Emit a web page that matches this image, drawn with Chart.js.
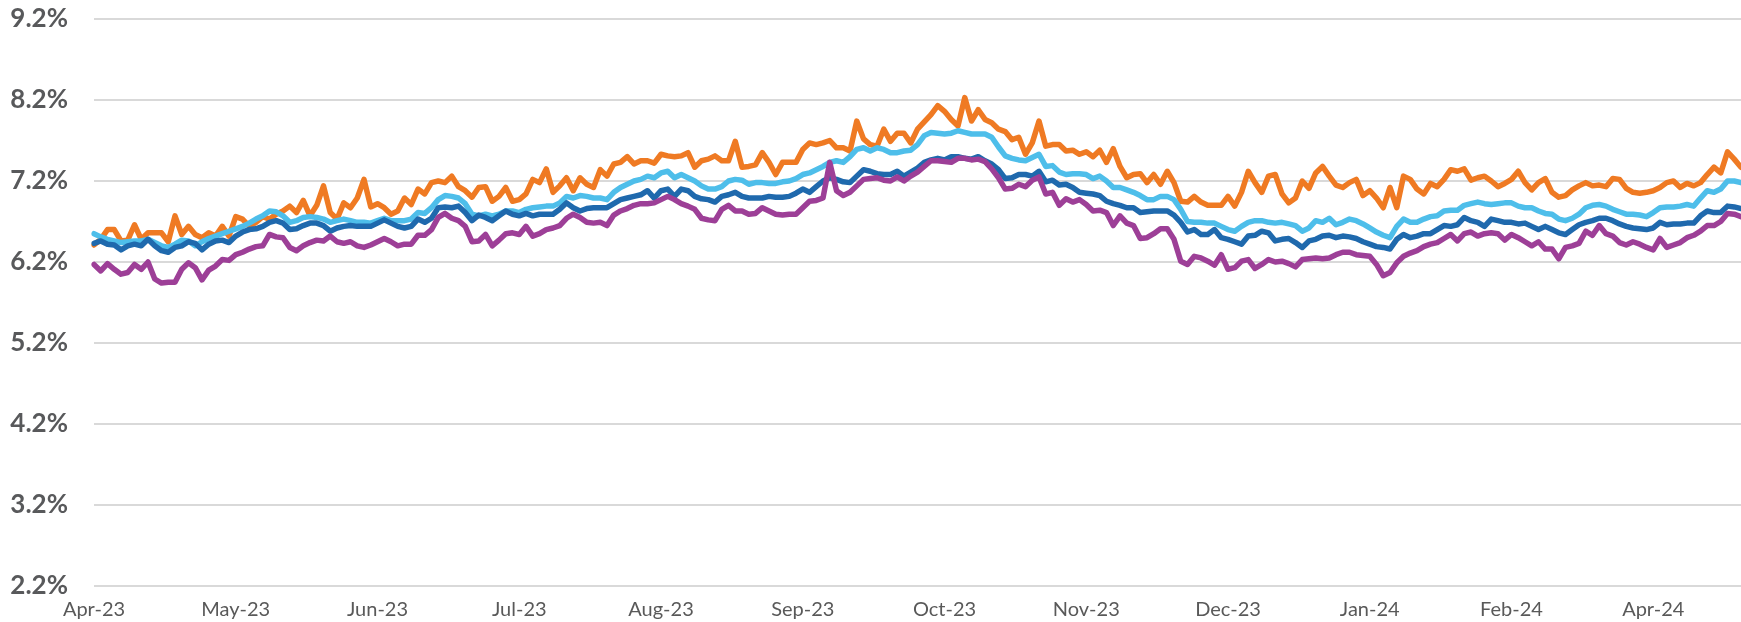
<!DOCTYPE html>
<html>
<head>
<meta charset="utf-8">
<script src="https://cdn.jsdelivr.net/npm/chart.js@4.4.1/dist/chart.umd.min.js"></script>
<style>
  html, body { margin: 0; padding: 0; background: #ffffff; }
  #wrap { width: 1741px; height: 622px; position: relative; }
</style>
</head>
<body>
<div id="wrap"><canvas id="c" width="1741" height="622"></canvas></div>
<script>
// ---- data ----
const tickLabels = ['Apr-23','May-23','Jun-23','Jul-23','Aug-23','Sep-23','Oct-23','Nov-23','Dec-23','Jan-24','Feb-24','Apr-24'];
const tickStep = 21;
const yTicks = [2.2, 3.2, 4.2, 5.2, 6.2, 7.2, 8.2, 9.2];

const orangeSeries = [
  6.41,6.48,6.60,6.60,6.46,6.47,6.66,6.48,6.56,6.56,6.56,6.45,6.77,6.54,6.64,6.54,6.50,6.56,6.52,6.64,
  6.52,6.76,6.73,6.64,6.69,6.76,6.73,6.79,6.83,6.89,6.81,6.96,6.77,6.90,7.14,6.81,6.73,6.93,6.87,6.99,
  7.22,6.88,6.92,6.87,6.79,6.83,6.99,6.91,7.10,
  7.04,7.18,7.20,7.18,7.26,7.13,7.08,7.00,7.12,7.13,6.95,7.01,7.12,6.95,6.97,7.04,7.22,7.18,7.35,7.06,
  7.14,7.24,7.08,7.24,7.16,7.12,7.34,7.26,7.41,7.43,7.50,7.41,7.45,7.45,7.42,7.53,7.51,7.50,7.51,7.55,
  7.37,7.45,7.47,7.51,7.45,7.45,7.69,7.37,7.38,
  7.40,7.55,7.43,7.28,7.43,7.43,7.43,7.59,7.67,7.65,7.67,7.70,7.61,7.61,7.57,7.94,7.72,7.65,7.63,7.84,
  7.69,7.79,7.79,7.67,7.84,7.93,8.02,8.13,8.06,7.96,7.88,8.23,7.94,8.08,7.96,7.92,7.84,7.81,7.71,7.74,
  7.53,7.67,7.94,7.63,7.65,7.65,7.57,7.58,7.53,
  7.56,7.50,7.58,7.43,7.60,7.38,7.24,7.28,7.29,7.18,7.28,7.16,7.32,7.18,6.95,6.94,7.01,6.94,6.90,6.90,
  6.90,7.01,6.89,7.06,7.32,7.18,7.06,7.26,7.28,7.04,6.93,6.99,7.20,7.11,7.30,7.38,7.26,7.15,7.12,7.18,
  7.22,7.02,7.08,6.99,6.87,7.12,6.87,7.26,7.22,
  7.10,7.04,7.17,7.13,7.22,7.34,7.32,7.35,7.21,7.24,7.26,7.20,7.13,7.17,7.22,7.32,7.18,7.09,7.18,7.23,
  7.06,7.00,7.02,7.09,7.14,7.18,7.14,7.15,7.13,7.23,7.22,7.11,7.06,7.05,7.06,7.08,7.12,7.18,7.20,7.12,
  7.17,7.14,7.18,7.28,7.37,7.30,7.56,7.47,7.37
];

const skySeries = [
  6.55,6.51,6.48,6.46,6.44,6.45,6.46,6.46,6.48,6.44,6.40,6.38,6.42,6.47,6.46,6.40,6.45,6.49,6.52,6.55,
  6.58,6.61,6.64,6.68,6.73,6.77,6.83,6.82,6.77,6.69,6.71,6.75,6.76,6.75,6.73,6.69,6.71,6.73,6.71,6.69,
  6.69,6.68,6.71,6.74,6.71,6.71,6.71,6.73,6.81,
  6.80,6.87,6.97,7.02,7.01,6.99,6.92,6.79,6.77,6.79,6.77,6.79,6.83,6.83,6.81,6.85,6.87,6.88,6.89,6.89,
  6.93,7.01,6.99,7.02,7.01,6.99,6.99,6.97,7.06,7.12,7.16,7.20,7.22,7.26,7.24,7.30,7.32,7.24,7.28,7.24,
  7.20,7.14,7.10,7.10,7.13,7.20,7.22,7.21,7.16,
  7.18,7.18,7.17,7.17,7.19,7.20,7.23,7.28,7.30,7.34,7.38,7.43,7.45,7.43,7.50,7.59,7.61,7.57,7.61,7.59,
  7.55,7.55,7.57,7.58,7.65,7.76,7.80,7.79,7.78,7.79,7.82,7.80,7.78,7.78,7.78,7.74,7.62,7.51,7.48,7.46,
  7.45,7.49,7.53,7.38,7.39,7.31,7.28,7.29,7.29,
  7.28,7.23,7.26,7.20,7.12,7.12,7.09,7.06,7.02,6.97,6.97,7.01,7.01,6.97,6.85,6.70,6.69,6.69,6.68,6.68,
  6.64,6.60,6.58,6.64,6.69,6.71,6.71,6.69,6.68,6.69,6.67,6.65,6.58,6.62,6.71,6.69,6.74,6.66,6.69,6.73,
  6.71,6.67,6.62,6.57,6.53,6.50,6.64,6.73,6.69,
  6.69,6.73,6.76,6.77,6.83,6.84,6.84,6.90,6.92,6.94,6.92,6.91,6.92,6.93,6.93,6.89,6.87,6.87,6.83,6.80,
  6.79,6.73,6.71,6.74,6.79,6.87,6.90,6.91,6.89,6.85,6.82,6.79,6.79,6.78,6.76,6.81,6.87,6.88,6.88,6.89,
  6.91,6.89,6.99,7.08,7.06,7.10,7.20,7.20,7.18
];

const navySeries = [
  6.43,6.46,6.42,6.41,6.35,6.40,6.42,6.40,6.48,6.40,6.34,6.32,6.38,6.40,6.45,6.43,6.35,6.42,6.46,6.47,
  6.44,6.52,6.57,6.60,6.61,6.64,6.69,6.71,6.68,6.60,6.61,6.65,6.68,6.68,6.65,6.58,6.62,6.64,6.65,6.64,
  6.64,6.64,6.68,6.72,6.68,6.64,6.62,6.64,6.73,
  6.69,6.74,6.87,6.88,6.87,6.89,6.81,6.71,6.78,6.75,6.71,6.77,6.83,6.79,6.77,6.80,6.77,6.79,6.79,6.79,
  6.85,6.93,6.87,6.83,6.86,6.87,6.87,6.87,6.92,6.97,6.99,7.01,7.03,7.08,6.99,7.08,7.10,7.01,7.10,7.08,
  7.01,6.98,6.97,6.94,7.01,7.03,7.06,7.01,6.99,
  6.99,6.99,7.01,7.00,7.00,7.01,7.05,7.10,7.06,7.13,7.20,7.24,7.22,7.19,7.18,7.26,7.34,7.32,7.29,7.28,
  7.28,7.32,7.26,7.31,7.36,7.43,7.46,7.48,7.46,7.50,7.50,7.48,7.47,7.50,7.45,7.41,7.34,7.23,7.24,7.28,
  7.28,7.26,7.32,7.19,7.21,7.15,7.16,7.12,7.06,
  7.05,7.04,7.02,6.95,6.92,6.90,6.87,6.87,6.81,6.82,6.83,6.83,6.83,6.78,6.69,6.57,6.60,6.54,6.54,6.60,
  6.50,6.48,6.45,6.42,6.52,6.53,6.58,6.56,6.46,6.48,6.49,6.44,6.38,6.46,6.48,6.52,6.53,6.50,6.52,6.51,
  6.49,6.45,6.42,6.39,6.38,6.36,6.48,6.54,6.50,
  6.52,6.55,6.55,6.60,6.65,6.64,6.66,6.75,6.71,6.69,6.64,6.73,6.71,6.69,6.69,6.67,6.68,6.64,6.60,6.64,
  6.60,6.56,6.54,6.60,6.66,6.69,6.71,6.74,6.74,6.71,6.67,6.64,6.62,6.61,6.60,6.62,6.69,6.66,6.67,6.67,
  6.68,6.68,6.77,6.83,6.81,6.81,6.89,6.88,6.86
];

const purpleSeries = [
  6.17,6.09,6.18,6.11,6.05,6.07,6.17,6.11,6.20,5.99,5.94,5.95,5.95,6.11,6.19,6.13,5.98,6.10,6.15,6.23,
  6.22,6.29,6.32,6.36,6.39,6.40,6.54,6.51,6.50,6.38,6.34,6.40,6.44,6.47,6.46,6.52,6.45,6.43,6.45,6.40,
  6.38,6.41,6.45,6.49,6.45,6.40,6.42,6.42,6.53,
  6.53,6.60,6.75,6.80,6.74,6.71,6.64,6.45,6.46,6.54,6.40,6.47,6.55,6.56,6.54,6.64,6.52,6.55,6.60,6.62,
  6.65,6.74,6.79,6.75,6.69,6.68,6.69,6.65,6.78,6.83,6.86,6.90,6.92,6.92,6.93,6.97,7.01,6.97,6.92,6.89,
  6.85,6.74,6.72,6.71,6.85,6.90,6.83,6.83,6.79,
  6.80,6.87,6.83,6.79,6.78,6.79,6.79,6.87,6.95,6.96,6.99,7.43,7.08,7.02,7.06,7.14,7.22,7.23,7.24,7.21,
  7.20,7.25,7.20,7.26,7.31,7.38,7.45,7.45,7.44,7.43,7.48,7.48,7.46,7.47,7.44,7.35,7.24,7.10,7.11,7.16,
  7.13,7.21,7.25,7.04,7.06,6.90,6.98,6.94,6.97,
  6.91,6.83,6.84,6.81,6.65,6.77,6.68,6.65,6.49,6.50,6.55,6.61,6.61,6.48,6.21,6.17,6.27,6.25,6.21,6.16,
  6.29,6.11,6.13,6.21,6.23,6.12,6.17,6.23,6.20,6.21,6.18,6.14,6.23,6.24,6.25,6.24,6.25,6.29,6.32,6.32,
  6.29,6.28,6.27,6.17,6.03,6.07,6.19,6.27,6.31,
  6.34,6.39,6.42,6.44,6.49,6.54,6.46,6.55,6.57,6.52,6.55,6.56,6.55,6.47,6.54,6.50,6.45,6.40,6.45,6.36,
  6.36,6.24,6.38,6.40,6.43,6.58,6.53,6.65,6.55,6.52,6.44,6.41,6.45,6.42,6.38,6.35,6.49,6.38,6.41,6.44,
  6.50,6.53,6.58,6.65,6.65,6.70,6.80,6.79,6.76
];

const categories = orangeSeries.map((_, i) => i);

// ---- chart ----
const lineStyle = (color) => ({
  borderColor: color,
  backgroundColor: color,
  borderWidth: 5.5,
  pointRadius: 0,
  pointHoverRadius: 0,
  tension: 0,
  fill: false,
  borderJoinStyle: 'round',
  borderCapStyle: 'round'
});

new Chart(document.getElementById('c'), {
  type: 'line',
  data: {
    labels: categories,
    datasets: [
      Object.assign({ label: 'Purple', data: purpleSeries }, lineStyle('#9d3f97')),
      Object.assign({ label: 'Navy', data: navySeries }, lineStyle('#1f69ad')),
      Object.assign({ label: 'Sky', data: skySeries }, lineStyle('#4ebeea')),
      Object.assign({ label: 'Orange', data: orangeSeries }, lineStyle('#ef7a23'))
    ]
  },
  options: {
    responsive: true,
    maintainAspectRatio: false,
    devicePixelRatio: 1,
    animation: false,
    events: [],
    layout: { padding: { top: 19, right: 0, left: 0, bottom: 0 } },
    plugins: { legend: { display: false }, tooltip: { enabled: false } },
    scales: {
      x: {
        type: 'category',
        offset: false,
        grid: { display: false, drawTicks: false },
        border: { display: false },
        ticks: {
          autoSkip: false,
          maxRotation: 0,
          minRotation: 0,
          padding: 12,
          color: '#595959',
          font: { family: 'Lato, "Liberation Sans", sans-serif', size: 20, weight: '400' },
          callback: function (val, idx) {
            return (idx % tickStep === 0 && tickLabels[idx / tickStep]) ? tickLabels[idx / tickStep] : '';
          }
        },
        afterFit: function (scale) {
          scale.height = 36;
          scale.paddingLeft = 0; scale.paddingRight = 0;
        }
      },
      y: {
        min: yTicks[0],
        max: yTicks[yTicks.length - 1],
        grid: { color: '#d9d9d9', lineWidth: 2, drawTicks: false, tickLength: 0 },
        border: { display: false },
        afterBuildTicks: function (scale) { scale.ticks = yTicks.map(v => ({ value: v })); },
        ticks: {
          padding: 26,
          color: '#58595b',
          font: { family: 'Lato, "Liberation Sans", sans-serif', size: 26, weight: 'bold' },
          callback: function (v) { return Number(v).toFixed(1) + '%'; }
        },
        afterFit: function (scale) {
          scale.width = 94;
          scale.paddingTop = 0; scale.paddingBottom = 0;
        }
      }
    }
  }
});
</script>
</body>
</html>
